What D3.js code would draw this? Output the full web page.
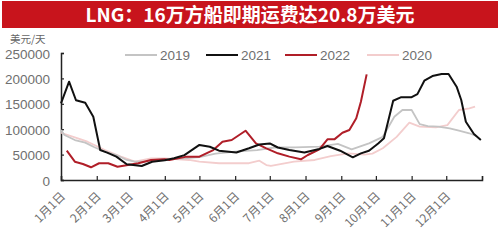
<!DOCTYPE html>
<html lang="zh">
<head>
<meta charset="UTF-8">
<title>LNG 即期运费</title>
<script src="https://d3js.org/d3.v7.min.js"></script>
<style>
    body { margin: 0; background: #fff; }
    svg { display: block; font-family: "Liberation Sans", Arial, "Noto Sans CJK SC", sans-serif; }
    .title { font-family: "Noto Sans CJK SC", sans-serif; font-weight: bold; fill: #fff; }
    .tick-label { fill: #6f6f6f; }
</style>
</head>
<body>
<div id="chart"></div>
<script>
    const title = 'LNG：16万方船即期运费达20.8万美元';
    const unitLabel = '美元/天';
    const yTicks = [0, 50000, 100000, 150000, 200000, 250000];
    const monthLabels = ['1月1日', '2月1日', '3月1日', '4月1日', '5月1日', '6月1日',
                         '7月1日', '8月1日', '9月1日', '10月1日', '11月1日', '12月1日'];
    const seriesNames = ['2019', '2021', '2022', '2020'];

    // dates are month-day, values in USD/day
    const dates2019 = ['01-01','01-04','01-13','01-22','01-30','02-08','02-18','02-27','03-06','03-14',
                       '03-23','04-01','04-15','05-01','05-15','06-01','06-20','07-05','07-23','08-13',
                       '08-29','09-10','09-25','10-07','10-17','10-24','11-01','11-08','11-15','11-24',
                       '12-04','12-12','12-21','12-27'];
    const values2019 = [98400, 88600, 78700, 73500, 64400, 55700, 49200, 39400, 36000, 36000,
                        39400, 41000, 42000, 45000, 52000, 56000, 59000, 64000, 64400, 65600,
                        71000, 60400, 72000, 85000, 124600, 137800, 137800, 110000, 106000, 105000,
                        101700, 97000, 92000, 86600];

    const dates2021 = ['01-01','01-08','01-14','01-22','01-29','02-04','02-10','02-18','02-27','03-12',
                       '03-21','04-01','04-09','04-18','05-01','05-10','05-18','06-02','06-13','06-22',
                       '07-01','07-08','07-18','07-31','08-12','08-20','08-31','09-11','09-18','09-25',
                       '10-03','10-08','10-16','10-23','11-01','11-06','11-12','11-19','11-27','12-03',
                       '12-10','12-14','12-18','12-25','12-31'];
    const values2021 = [151000, 193500, 157000, 152000, 124500, 59000, 54000, 46000, 31000, 27500,
                        36000, 39000, 42700, 49000, 69000, 65500, 57700, 54000, 62400, 70000,
                        72000, 64000, 59000, 54000, 60400, 67000, 57700, 44700, 52500, 57700,
                        72000, 82000, 156000, 163000, 163000, 169000, 195500, 204700, 208700, 208700,
                        183700, 157500, 114800, 90500, 78700];

    const dates2022 = ['01-06','01-13','01-20','01-27','02-03','02-11','02-19','02-28','03-09','03-20',
                       '04-01','04-05','04-20','05-01','05-13','05-21','05-29','06-10','06-19','06-28',
                       '07-08','07-18','07-28','08-03','08-13','08-20','08-26','09-02','09-08','09-14',
                       '09-18','09-23'];
    const values2022 = [57700, 36000, 31500, 25000, 33000, 33000, 26200, 29500, 33000, 39400,
                        40700, 39400, 46000, 46000, 59000, 75400, 78700, 97000, 72200, 62400,
                        52500, 46000, 40700, 49200, 60400, 80000, 80000, 93000, 98400, 121500,
                        154000, 208000];

    const dates2020 = ['01-01','01-13','01-24','02-08','02-22','03-06','03-20','04-01','04-22','05-01',
                       '05-18','06-13','06-22','06-28','07-02','07-22','08-09','08-23','09-07','09-21',
                       '09-28','10-07','10-19','10-30','11-08','11-22','12-02','12-12','12-21','12-26'];
    const values2020 = [93000, 84000, 75400, 59000, 46000, 36000, 42700, 42700, 39400, 36000,
                        33000, 33000, 38000, 29500, 27600, 36000, 39400, 47200, 52500, 50000,
                        52000, 62400, 85000, 112800, 105000, 103700, 108000, 137800, 141000, 144300];

    const colors = { '2019': '#c4c4c4', '2021': '#111111', '2022': '#b01e28', '2020': '#f3cdcd' };

    const width = 500, height = 241;
    const margin = { left: 61, right: 18, top: 53, bottom: 61 };

    const svg = d3.select('#chart').append('svg')
        .attr('width', width)
        .attr('height', height);

    // title banner
    svg.append('rect')
        .attr('x', 2).attr('y', 1)
        .attr('width', 496).attr('height', 27)
        .attr('fill', '#c8141c');
    svg.append('text')
        .attr('class', 'title')
        .attr('x', width / 2).attr('y', 22)
        .attr('text-anchor', 'middle')
        .attr('font-size', 19)
        .text(title);

    const parse = d3.timeParse('%Y-%m-%d');
    const x = d3.scaleTime()
        .domain([new Date(2021, 0, 1), new Date(2022, 0, 1)])
        .range([margin.left, width - margin.right]);
    const y = d3.scaleLinear()
        .domain([0, 250000])
        .range([height - margin.bottom, margin.top]);

    // y axis
    const yAxis = svg.append('g')
        .attr('transform', `translate(${margin.left},0)`)
        .call(d3.axisRight(y).tickValues(yTicks).tickSize(3).tickFormat(d => d));
    yAxis.select('.domain').attr('stroke', '#222').attr('stroke-width', 1.5);
    yAxis.selectAll('.tick line').attr('stroke', '#222').attr('stroke-width', 1.2);
    yAxis.selectAll('.tick text')
        .attr('class', 'tick-label')
        .attr('x', -11)
        .attr('dy', '0.38em')
        .attr('text-anchor', 'end')
        .attr('font-size', 13.5);

    svg.append('text')
        .attr('x', 10).attr('y', 43)
        .attr('font-size', 10.5)
        .attr('fill', '#666')
        .attr('font-family', '"Noto Sans CJK SC", sans-serif')
        .text(unitLabel);

    // x axis
    const monthTicks = d3.range(12).map(m => new Date(2021, m, 1)).concat([new Date(2022, 0, 1)]);
    const xAxis = svg.append('g')
        .attr('transform', `translate(0,${height - margin.bottom})`)
        .call(d3.axisTop(x).tickValues(monthTicks).tickSize(4).tickFormat(''));
    xAxis.select('.domain').attr('stroke', '#222').attr('stroke-width', 1.5);
    xAxis.selectAll('.tick line').attr('stroke', '#222').attr('stroke-width', 1.2);

    svg.append('g').selectAll('text')
        .data(monthLabels)
        .join('text')
        .attr('class', 'tick-label')
        .attr('transform', (d, i) => `translate(${x(monthTicks[i]) + 5},${height - margin.bottom + 17}) rotate(-45)`)
        .attr('text-anchor', 'end')
        .attr('font-size', 12)
        .attr('font-family', '"Noto Sans CJK SC", sans-serif')
        .text(d => d);

    // lines
    const seriesData = {
        '2019': d3.zip(dates2019, values2019),
        '2021': d3.zip(dates2021, values2021),
        '2022': d3.zip(dates2022, values2022),
        '2020': d3.zip(dates2020, values2020)
    };
    const line = d3.line()
        .x(d => x(parse('2021-' + d[0])))
        .y(d => y(d[1]));

    const drawOrder = ['2020', '2019', '2022', '2021'];
    const widths = { '2019': 1.8, '2021': 2, '2022': 2, '2020': 1.8 };
    drawOrder.forEach(name => {
        svg.append('path')
            .datum(seriesData[name])
            .attr('fill', 'none')
            .attr('stroke', colors[name])
            .attr('stroke-width', widths[name])
            .attr('stroke-linejoin', 'round')
            .attr('d', line);
    });

    // legend
    const legendX = [125, 206, 285, 367];
    const legend = svg.append('g');
    seriesNames.forEach((name, i) => {
        legend.append('line')
            .attr('x1', legendX[i]).attr('x2', legendX[i] + 32)
            .attr('y1', 55).attr('y2', 55)
            .attr('stroke', colors[name])
            .attr('stroke-width', 2);
        legend.append('text')
            .attr('class', 'tick-label')
            .attr('x', legendX[i] + 35).attr('y', 60)
            .attr('font-size', 13.5)
            .text(name);
    });
</script>
</body>
</html>
